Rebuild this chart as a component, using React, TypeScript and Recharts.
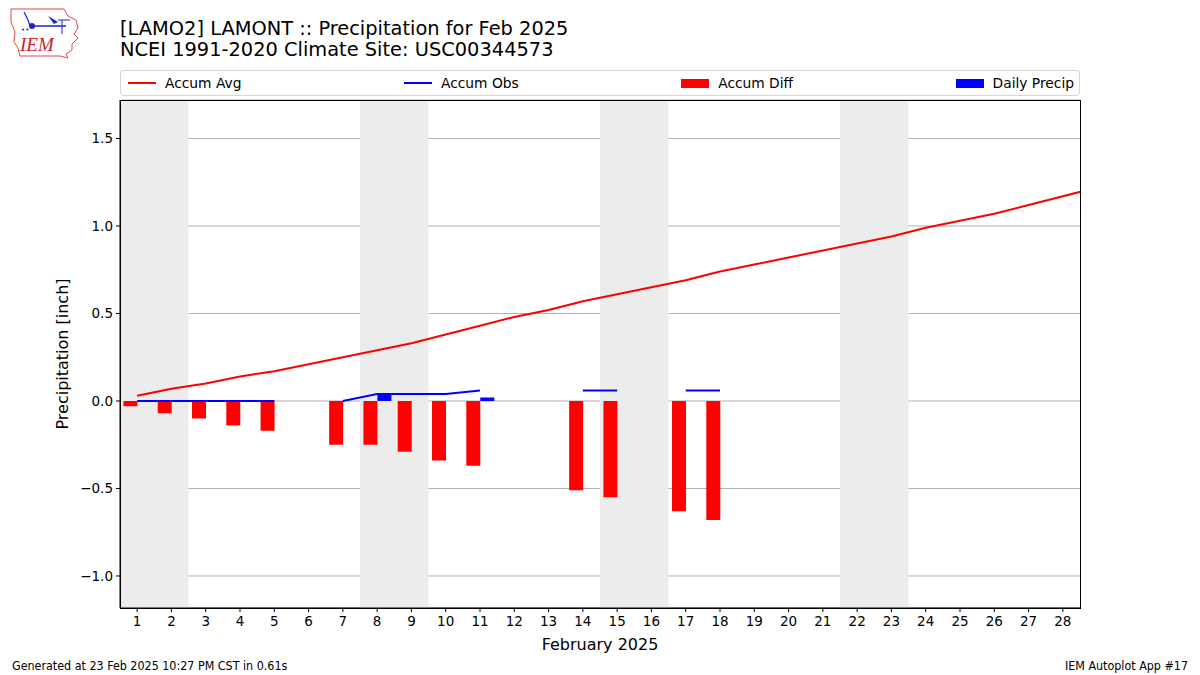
import {
  ComposedChart,
  Bar,
  Line,
  XAxis,
  YAxis,
  CartesianGrid,
  ReferenceArea,
} from "recharts";

const DAYS = [
  1, 2, 3, 4, 5, 6, 7, 8, 9, 10, 11, 12, 13, 14, 15, 16, 17, 18, 19, 20, 21,
  22, 23, 24, 25, 26, 27, 28, 29,
];
const ACCUM_AVG = [
  0.03, 0.07, 0.1, 0.14, 0.17, 0.21, 0.25, 0.29, 0.33, 0.38, 0.43, 0.48, 0.52,
  0.57, 0.61, 0.65, 0.69, 0.74, 0.78, 0.82, 0.86, 0.9, 0.94, 0.99, 1.03, 1.07,
  1.12, 1.17, 1.22,
];
const ACCUM_OBS = [
  0, 0, 0, 0, 0, null, 0, 0.04, 0.04, 0.04, 0.06, null, null, 0.06, 0.06, null,
  0.06, 0.06, null, null, null, null, null, null, null, null, null, null, null,
];
const ACCUM_DIFF = [
  -0.03, -0.07, -0.1, -0.14, -0.17, null, -0.25, -0.25, -0.29, -0.34, -0.37,
  null, null, -0.51, -0.55, null, -0.63, -0.68, null, null, null, null, null,
  null, null, null, null, null, null,
];
const DAILY_PRECIP = [
  null, null, null, null, null, null, null, 0.04, null, null, 0.02, null, null,
  null, null, null, null, null, null, null, null, null, null, null, null, null,
  null, null, null,
];
const WEEKENDS: [number, number][] = [
  [0.5, 2.5],
  [7.5, 9.5],
  [14.5, 16.5],
  [21.5, 23.5],
];
const X_TICKS = DAYS.slice(0, 28);
const Y_TICKS = [-1, -0.5, 0, 0.5, 1, 1.5];

const data = DAYS.map((d, i) => ({
  day: d,
  avg: ACCUM_AVG[i],
  obs: ACCUM_OBS[i],
  diff: ACCUM_DIFF[i],
  daily: DAILY_PRECIP[i],
}));

const FONT = "DejaVu Sans, sans-serif";

const legendItems = [
  { label: "Accum Avg", color: "#ff0000", kind: "line" },
  { label: "Accum Obs", color: "#0000ff", kind: "line" },
  { label: "Accum Diff", color: "#ff0000", kind: "bar" },
  { label: "Daily Precip", color: "#0000ff", kind: "bar" },
];

function LegendBox() {
  return (
    <div
      style={{
        position: "absolute",
        left: 120,
        top: 70,
        width: 958,
        height: 24,
        border: "1px solid #d6d6d6",
        borderRadius: 3,
        display: "flex",
        justifyContent: "space-between",
        alignItems: "center",
        fontFamily: FONT,
        fontSize: 13.8,
        color: "#000",
        background: "#fff",
      }}
    >
      {legendItems.map((it) => (
        <div
          key={it.label}
          style={{ display: "flex", alignItems: "center", padding: "0 5px 0 7px" }}
        >
          <svg width={28} height={10} style={{ marginRight: 9 }}>
            {it.kind === "line" ? (
              <line x1={0} y1={5} x2={28} y2={5} stroke={it.color} strokeWidth={2} />
            ) : (
              <rect x={0} y={1} width={28} height={9} fill={it.color} />
            )}
          </svg>
          <span>{it.label}</span>
        </div>
      ))}
    </div>
  );
}

function Logo() {
  return (
    <svg width={80} height={60} style={{ position: "absolute", left: 6, top: 4 }}>
      <path
        d="M5 5 L58 5 L62 12 L70 16 L72 24 L68 30 L72 34 L66 40 L66 46 L60 50 L62 54 L54 52 L14 52 L12 44 L8 38 L9 28 L5 18 Z"
        fill="none"
        stroke="#d9494f"
        strokeWidth={1}
      />
      <path d="M18 8 L22 16 L24 22" fill="none" stroke="#2020d0" strokeWidth={1.2} />
      <circle cx={26} cy={22} r={3} fill="#2020d0" />
      <line x1={26} y1={22} x2={60} y2={22} stroke="#2020d0" strokeWidth={1.5} />
      <path d="M42 12 L52 18 L48 20 Z" fill="#2020d0" />
      <line x1={52} y1={16} x2={64} y2={16} stroke="#2020d0" strokeWidth={1} />
      <line x1={56} y1={16} x2={56} y2={30} stroke="#2020d0" strokeWidth={1} />
      <text x={15} y={28} fontSize={7} fill="#2020d0">
        ••
      </text>
      <text
        x={14}
        y={47}
        fontFamily="Liberation Serif, serif"
        fontStyle="italic"
        fontSize={19}
        fill="#d0202a"
      >
        IEM
      </text>
    </svg>
  );
}

const fmtY = (v: number) => (v < 0 ? "\u2212" + Math.abs(v).toFixed(1) : v.toFixed(1));

const footStyle = {
  position: "absolute" as const,
  top: 658,
  fontSize: 12.4,
  fontFamily: "DejaVu Sans Condensed, DejaVu Sans, sans-serif",
  fontStretch: "condensed",
  color: "#000",
};

export default function App() {
  return (
    <div
      style={{
        position: "absolute",
        left: 0,
        top: 0,
        width: 1200,
        height: 675,
        background: "#fff",
        fontFamily: FONT,
      }}
    >
      <Logo />
      <div
        style={{
          position: "absolute",
          left: 120,
          top: 18,
          fontSize: 19.4,
          lineHeight: "21px",
          color: "#000",
        }}
      >
        <div>[LAMO2] LAMONT :: Precipitation for Feb 2025</div>
        <div>NCEI 1991-2020 Climate Site: USC00344573</div>
      </div>
      <LegendBox />
      <ComposedChart
        width={1200}
        height={675}
        data={data}
        margin={{ top: 100, right: 120, bottom: 37, left: 60 }}
        barCategoryGap="10%"
        barGap={0}
        style={{ position: "absolute", left: 0, top: 0 }}
      >
        <CartesianGrid vertical={false} stroke="#b0b0b0" strokeWidth={1} />
        {WEEKENDS.map(([a, b]) => (
          <ReferenceArea
            key={a}
            x1={a}
            x2={b}
            fill="#ececec"
            fillOpacity={1}
            stroke="none"
            ifOverflow="hidden"
          />
        ))}
        <XAxis
          dataKey="day"
          type="number"
          domain={[0.5, 28.5]}
          allowDataOverflow
          ticks={X_TICKS}
          interval={0}
          tickSize={4}
          tickMargin={4}
          stroke="#000"
          tick={{ fill: "#000", fontSize: 13.5, fontFamily: FONT }}
          height={30}
          label={{
            value: "February 2025",
            position: "insideBottom",
            offset: -12,
            fill: "#000",
            fontSize: 16,
            fontFamily: FONT,
          }}
        />
        <YAxis
          type="number"
          domain={[-1.183, 1.72]}
          allowDataOverflow
          ticks={Y_TICKS}
          tickFormatter={fmtY}
          tickSize={4}
          tickMargin={3}
          stroke="#000"
          width={60}
          tick={{ fill: "#000", fontSize: 13.5, fontFamily: FONT }}
          label={{
            value: "Precipitation [inch]",
            angle: -90,
            position: "insideLeft",
            offset: 2,
            style: { textAnchor: "middle" },
            fill: "#000",
            fontSize: 16,
            fontFamily: FONT,
          }}
        />
        <Bar dataKey="diff" fill="#ff0000" isAnimationActive={false} />
        <Bar dataKey="daily" fill="#0000ff" isAnimationActive={false} />
        <Line
          dataKey="avg"
          stroke="#ff0000"
          strokeWidth={2}
          dot={false}
          activeDot={false}
          isAnimationActive={false}
        />
        <Line
          dataKey="obs"
          stroke="#0000ff"
          strokeWidth={2}
          dot={false}
          activeDot={false}
          connectNulls={false}
          isAnimationActive={false}
        />
      </ComposedChart>
      <div
        style={{
          position: "absolute",
          left: 120,
          top: 100,
          width: 959,
          height: 507,
          border: "1px solid #000",
          pointerEvents: "none",
        }}
      />
      <div style={{ ...footStyle, left: 12 }}>
        Generated at 23 Feb 2025 10:27 PM CST in 0.61s
      </div>
      <div style={{ ...footStyle, right: 12 }}>IEM Autoplot App #17</div>
    </div>
  );
}
